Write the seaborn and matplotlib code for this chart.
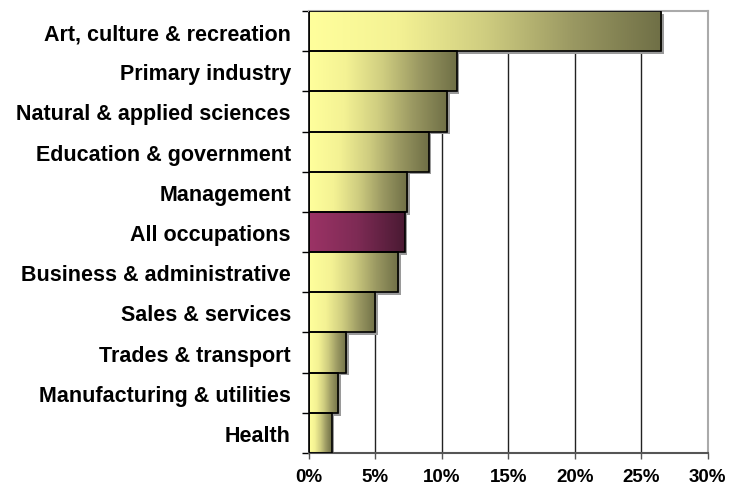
import numpy as np
import pandas as pd
import matplotlib
matplotlib.use("Agg")
import matplotlib.pyplot as plt
import matplotlib.patheffects as pe
from matplotlib.patches import Rectangle
from matplotlib.colors import LinearSegmentedColormap
from matplotlib.ticker import FixedLocator, PercentFormatter
import seaborn as sns

# data
occupations = [
    "Art, culture & recreation",
    "Primary industry",
    "Natural & applied sciences",
    "Education & government",
    "Management",
    "All occupations",
    "Business & administrative",
    "Sales & services",
    "Trades & transport",
    "Manufacturing & utilities",
    "Health",
]
shares = [26.5, 11.1, 10.4, 9.0, 7.4, 7.2, 6.7, 5.0, 2.8, 2.2, 1.7]
highlight = "All occupations"

sns.set_theme(style="white")
plt.rcParams["font.family"] = ["Liberation Sans", "DejaVu Sans"]
plt.rcParams["text.color"] = "black"
plt.rcParams["xtick.color"] = "black"
plt.rcParams["ytick.color"] = "black"

df = pd.DataFrame({"occupation": occupations, "share": shares})

fig = plt.figure(figsize=(7.42, 4.89), dpi=100)
ax = fig.add_axes([0.4164, 0.0716, 0.954 - 0.4164, 0.9755 - 0.0716])

sns.barplot(data=df, x="share", y="occupation", orient="h", width=1.0,
            color="white", edgecolor="black", linewidth=1.2, ax=ax, zorder=3)

yellow = LinearSegmentedColormap.from_list("yel", ["#ffff9c", "#f4f294", "#cfcd80", "#9a9862", "#6f6f46"])
plum = LinearSegmentedColormap.from_list("plum", ["#9c3366", "#7e2b55", "#4a1a33"])
grad = np.linspace(0, 1, 256).reshape(1, -1)

for patch, name in zip(list(ax.patches), df["occupation"]):
    x0, y0 = patch.get_x(), patch.get_y()
    w, h = patch.get_width(), patch.get_height()
    cmap = plum if name == highlight else yellow
    im = ax.imshow(grad, cmap=cmap, aspect="auto", extent=(x0, x0 + w, y0 + h, y0),
                   zorder=2.5, interpolation="bicubic")
    im.set_clip_path(patch)
    patch.set_facecolor("none")
    # soft drop shadow behind each bar
    shadow = Rectangle((x0, y0), w, h, facecolor="none", edgecolor="none", zorder=2)
    shadow.set_path_effects([pe.SimplePatchShadow(offset=(2, -2), shadow_rgbFace="#9a9a9a", alpha=1.0)])
    ax.add_patch(shadow)

ax.set_xlim(0, 30)
ax.set_ylim(len(occupations) - 0.5, -0.5)
ax.xaxis.set_major_locator(FixedLocator([0, 5, 10, 15, 20, 25, 30]))
ax.xaxis.set_major_formatter(PercentFormatter(decimals=0))
ax.grid(axis="x", color="#222222", linewidth=1.0, zorder=0)
ax.set_axisbelow(True)

ax.set_yticks(range(len(occupations)))
ax.set_yticklabels(occupations, fontweight="bold", fontsize=15.5)
ax.set_yticks(np.arange(-0.5, len(occupations), 1.0), minor=True)
ax.tick_params(axis="y", which="major", length=0, pad=13)
ax.tick_params(axis="y", which="minor", left=True, length=5, width=1, color="black", direction="out")
ax.tick_params(axis="x", which="major", bottom=True, length=4, width=1, color="#555555",
               direction="out", pad=7, labelsize=13.5)
for lbl in ax.get_xticklabels():
    lbl.set_fontweight("bold")

ax.set_xlabel("")
ax.set_ylabel("")
ax.spines["left"].set_color("black")
ax.spines["left"].set_linewidth(1.2)
ax.spines["bottom"].set_color("#555555")
ax.spines["bottom"].set_linewidth(1.5)
for s in ("top", "right"):
    ax.spines[s].set_color("#aaaaaa")
    ax.spines[s].set_linewidth(1.5)

fig.savefig("out.png", dpi=100)
